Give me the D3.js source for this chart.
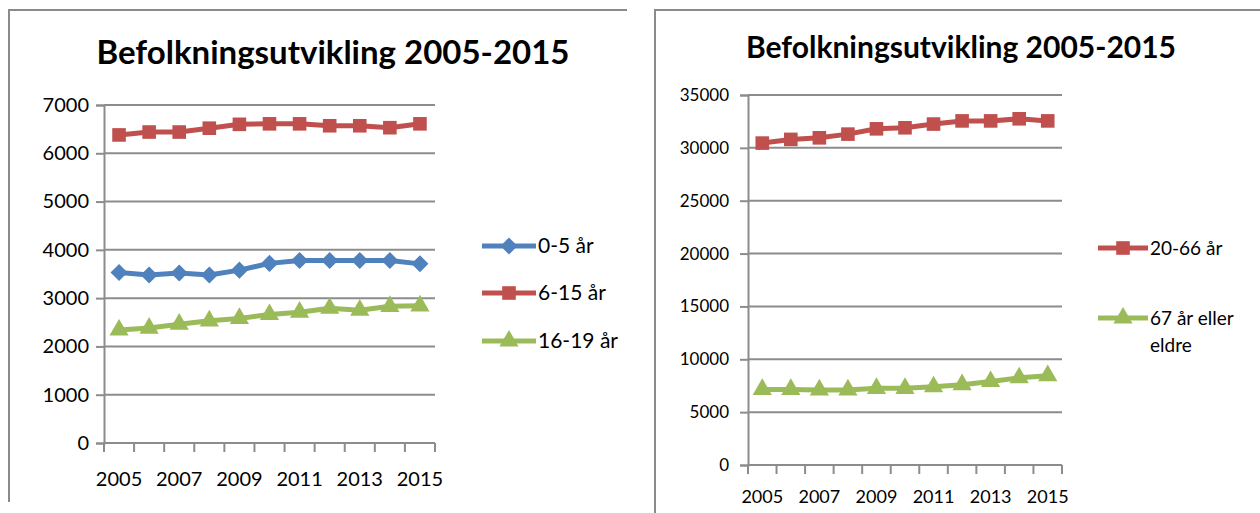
<!DOCTYPE html>
<html>
<head>
<meta charset="utf-8">
<script src="https://cdn.jsdelivr.net/npm/d3@7"></script>
<style>
  body { margin: 0; background: #fff; }
  svg { display: block; font-family: Lato, "Open Sans", sans-serif; }
</style>
</head>
<body>
<svg id="chart" width="1260" height="513"></svg>
<script>
// data
const years = [2005, 2006, 2007, 2008, 2009, 2010, 2011, 2012, 2013, 2014, 2015];
const yearLabels = ["2005", "2007", "2009", "2011", "2013", "2015"];

const age0to5   = [3530, 3480, 3520, 3480, 3580, 3720, 3780, 3780, 3780, 3780, 3710];
const age6to15  = [6380, 6440, 6440, 6520, 6600, 6610, 6610, 6570, 6570, 6530, 6610];
const age16to19 = [2340, 2380, 2460, 2530, 2580, 2660, 2710, 2790, 2750, 2830, 2840];

const age20to66 = [30450, 30800, 30950, 31300, 31800, 31900, 32250, 32550, 32550, 32750, 32550];
const age67plus = [7150, 7150, 7100, 7100, 7250, 7250, 7400, 7600, 7900, 8250, 8450];

const leftTicks  = [0, 1000, 2000, 3000, 4000, 5000, 6000, 7000];
const rightTicks = [0, 5000, 10000, 15000, 20000, 25000, 30000, 35000];

const BLUE = "#4f81bd", RED = "#c0504d", GREEN = "#9bbb59", GRID = "#8c8c8c";

const svg = d3.select("#chart");

// marker shapes, excel style
function marker(kind) {
  if (kind === "diamond") return d3.symbol().type(d3.symbolSquare).size(145)();
  if (kind === "square") return d3.symbol().type(d3.symbolSquare).size(185)();
  return d3.symbol().type(d3.symbolTriangle).size(160)();
}
function markerRot(kind) { return kind === "diamond" ? 45 : 0; }

function drawChart(o) {
  const g = svg.append("g");

  // chart frame: only left and top edges are visible in the screenshot
  g.append("path")
    .attr("d", `M${o.frame.x0},${o.frame.y1}V${o.frame.y0}H${o.frame.x1}`)
    .attr("fill", "none")
    .attr("stroke", "#8a8a8a")
    .attr("stroke-width", 2);

  g.append("text")
    .attr("x", o.titleX)
    .attr("y", o.titleY)
    .attr("text-anchor", "middle")
    .style("font-size", o.titleSize + "px")
    .style("font-weight", "bold")
    .attr("fill", "#000")
    .text("Befolkningsutvikling 2005-2015");

  const x = d3.scaleBand().domain(years).range([o.left, o.right]);
  const y = d3.scaleLinear().domain([0, d3.max(o.ticks)]).range([o.bottom, o.top]);

  // gridlines
  g.append("g")
    .selectAll("line")
    .data(o.ticks.slice(1))
    .enter().append("line")
    .attr("x1", o.left).attr("x2", o.right)
    .attr("y1", d => y(d)).attr("y2", d => y(d))
    .attr("stroke", GRID).attr("stroke-width", 2);

  // y axis
  const ya = g.append("g")
    .attr("transform", `translate(${o.left},0)`)
    .call(d3.axisLeft(y).tickValues(o.ticks).tickSize(8).tickPadding(o.yPad).tickFormat(d3.format("d")));
  ya.select(".domain").attr("stroke", GRID).attr("stroke-width", 2);
  ya.selectAll(".tick line").attr("stroke", GRID).attr("stroke-width", 2);
  ya.selectAll("text")
    .attr("fill", "#000")
    .style("font-size", o.tickSize + "px")
    .style("font-family", "Lato, sans-serif");

  // x axis: ticks between categories
  const xa = g.append("g").attr("transform", `translate(0,${o.bottom})`);
  xa.append("line")
    .attr("x1", o.left).attr("x2", o.right)
    .attr("stroke", GRID).attr("stroke-width", 2);
  xa.selectAll(".xtick")
    .data(years.concat(["end"]))
    .enter().append("line")
    .attr("class", "xtick")
    .attr("x1", d => d === "end" ? o.right : x(d))
    .attr("x2", d => d === "end" ? o.right : x(d))
    .attr("y1", 0).attr("y2", 9)
    .attr("stroke", GRID).attr("stroke-width", 2);
  xa.selectAll(".xlab")
    .data(yearLabels)
    .enter().append("text")
    .attr("class", "xlab")
    .attr("x", d => x(+d) + x.bandwidth() / 2)
    .attr("y", o.xLabelDy)
    .attr("text-anchor", "middle")
    .style("font-size", o.xTickSize + "px")
    .attr("fill", "#000")
    .text(d => d);

  const line = d3.line()
    .x((d, i) => x(years[i]) + x.bandwidth() / 2)
    .y(d => y(d));

  o.series.forEach(s => {
    g.append("path")
      .datum(s.values)
      .attr("d", line)
      .attr("fill", "none")
      .attr("stroke", s.color)
      .attr("stroke-width", 5)
      .attr("stroke-linejoin", "round");
    g.append("g").selectAll("path")
      .data(s.values)
      .enter().append("path")
      .attr("d", marker(s.shape))
      .attr("fill", s.color)
      .attr("transform", (d, i) =>
        `translate(${x(years[i]) + x.bandwidth() / 2},${y(d)}) rotate(${markerRot(s.shape)})`);

    // legend entry
    const lg = g.append("g").attr("transform", `translate(${o.legendX},${s.legendY})`);
    lg.append("line")
      .attr("x1", 0).attr("x2", o.legendLen)
      .attr("stroke", s.color).attr("stroke-width", 5);
    lg.append("path")
      .attr("d", marker(s.shape))
      .attr("fill", s.color)
      .attr("transform", `translate(${o.legendLen / 2},0) rotate(${markerRot(s.shape)})`);
    const t = lg.append("text")
      .attr("y", 0)
      .style("font-size", o.legendSize + "px")
      .attr("fill", "#000");
    s.name.forEach((ln, k) => {
      t.append("tspan").attr("x", o.legendLen + 2).attr("dy", k === 0 ? "0.35em" : "1.45em").text(ln);
    });
  });
}

// left chart
drawChart({
  frame: { x0: 9, y0: 10, x1: 627, y1: 502 },
  titleX: 333, titleY: 64, titleSize: 33,
  left: 104, right: 435, top: 105, bottom: 443,
  ticks: leftTicks, tickSize: 20, xTickSize: 20, yPad: 7, xLabelDy: 43,
  legendX: 482, legendLen: 54, legendSize: 21,
  series: [
    { name: ["0-5 år"], values: age0to5, color: BLUE, shape: "diamond", legendY: 246 },
    { name: ["6-15 år"], values: age6to15, color: RED, shape: "square", legendY: 293 },
    { name: ["16-19 år"], values: age16to19, color: GREEN, shape: "triangle", legendY: 341 }
  ]
});

// right chart
drawChart({
  frame: { x0: 655, y0: 10, x1: 1262, y1: 515 },
  titleX: 961, titleY: 58, titleSize: 30,
  left: 748, right: 1062, top: 95, bottom: 465,
  ticks: rightTicks, tickSize: 17, xTickSize: 18, yPad: 11, xLabelDy: 38,
  legendX: 1098, legendLen: 50, legendSize: 19,
  series: [
    { name: ["20-66 år"], values: age20to66, color: RED, shape: "square", legendY: 248 },
    { name: ["67 år eller", "eldre"], values: age67plus, color: GREEN, shape: "triangle", legendY: 318 }
  ]
});
</script>
</body>
</html>
